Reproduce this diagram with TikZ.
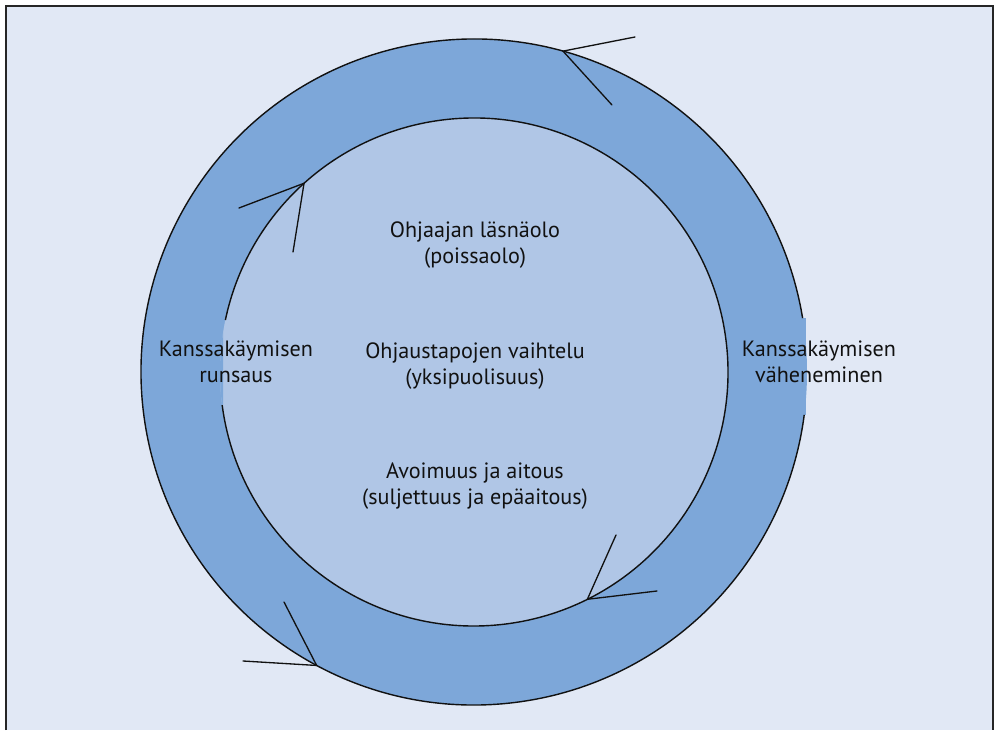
\documentclass[tikz,border=0pt]{standalone}
\usepackage{fontspec}
\setmainfont{PT Sans}
\usetikzlibrary{calc}
\definecolor{cy-back}{HTML}{E1E8F5}
\definecolor{cy-ring}{HTML}{7DA7D9}
\definecolor{cy-core}{HTML}{B0C6E6}
\definecolor{cy-line}{HTML}{111111}

\begin{document}
\begin{tikzpicture}[x=0.02cm, y=0.02cm,
    label/.style={font=\fontsize{12.6}{14.8}\selectfont, text=cy-line, align=center, inner sep=0pt},
    tick/.style={cy-line, line width=0.75pt, line cap=round}]
    \useasboundingbox (0,0) rectangle (1000,730);

    % Frame
    \fill[white] (0,0) rectangle (1000,730);
    \fill[cy-back] (6,0) rectangle (993,724);
    \draw[black!85, line width=1.1pt] (6,0) -- (6,724) -- (993,724) -- (993,0);

    % Circles
    \coordinate (O) at (474,358);
    \fill[cy-ring] (O) circle (333);
    \fill[cy-core] (O) circle (254);
    % label boxes cut across the rings
    \begin{scope}
        \clip (150,325) rectangle (223,410);
        \fill[cy-ring] (O) circle (254);
    \end{scope}
    \fill[cy-ring] (790,315) rectangle (806,412);

    \draw[cy-line, line width=0.8pt] ($(O)+(9.3:333)$) arc (9.3:352.6:333);
    \draw[cy-line, line width=0.8pt] ($(O)+(187.5:254)$) arc (187.5:528.2:254);

    % Arrow heads (open V, two strokes)
    \coordinate (tipA) at ($(O)+(74.5:333)$);
    \coordinate (tailA1) at (635,693);
    \coordinate (tailA2) at (612,625);
    \draw[tick] (tailA1) -- (tipA) -- (tailA2);

    \coordinate (tipB) at ($(O)+(132:254)$);
    \coordinate (tailB1) at (239,522);
    \coordinate (tailB2) at (293,478);
    \draw[tick] (tailB1) -- (tipB) -- (tailB2);

    \coordinate (tipC) at ($(O)+(-63.5:254)$);
    \coordinate (tailC1) at (616,195);
    \coordinate (tailC2) at (657,139);
    \draw[tick] (tailC1) -- (tipC) -- (tailC2);

    \coordinate (tipD) at ($(O)+(241.8:333)$);
    \coordinate (tailD1) at (284,128);
    \coordinate (tailD2) at (243,69);
    \draw[tick] (tailD1) -- (tipD) -- (tailD2);

    % Labels
    \node[label] (presence) at (475,485) {Ohjaajan läsnäolo\\(poissaolo)};
    \node[label] (variety) at (475,364) {Ohjaustapojen vaihtelu\\(yksipuolisuus)};
    \node[label] (openness) at (475,244) {Avoimuus ja aitous\\(suljettuus ja epäaitous)};
    \node[label] (rich) at (236,368) {Kanssakäymisen\\runsaus};
    \node[label] (fading) at (819,368) {Kanssakäymisen\\väheneminen};
\end{tikzpicture}
\end{document}
